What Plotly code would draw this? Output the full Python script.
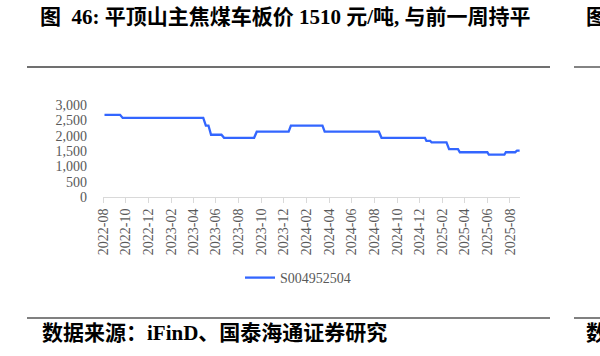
import plotly.graph_objects as go

# ---- data ----
dates = ["2022-08-05", "2022-09-16", "2022-09-23", "2023-04-28", "2023-05-05",
         "2023-05-12", "2023-05-19", "2023-06-16", "2023-06-23", "2023-09-12",
         "2023-09-19", "2023-12-14", "2023-12-20", "2024-03-14", "2024-03-20",
         "2024-08-13", "2024-08-20", "2024-12-15", "2024-12-19", "2024-12-29",
         "2025-01-02", "2025-02-11", "2025-02-18", "2025-03-14", "2025-03-19",
         "2025-06-01", "2025-06-05", "2025-07-17", "2025-07-21", "2025-08-15",
         "2025-08-20", "2025-08-27"]
prices = [2680, 2680, 2580, 2580, 2330, 2330, 2030, 2030, 1930, 1930,
          2130, 2130, 2330, 2330, 2130, 2130, 1930, 1930, 1830, 1830,
          1780, 1780, 1560, 1560, 1460, 1460, 1380, 1380, 1460, 1460,
          1510, 1510]
series_name = "S004952504"
tick_vals = ["2022-08-01", "2022-10-01", "2022-12-01", "2023-02-01", "2023-04-01",
             "2023-06-01", "2023-08-01", "2023-10-01", "2023-12-01", "2024-02-01",
             "2024-04-01", "2024-06-01", "2024-08-01", "2024-10-01", "2024-12-01",
             "2025-02-01", "2025-04-01", "2025-06-01", "2025-08-01"]
tick_text = [v[:7] for v in tick_vals]
title_text = "图  46: 平顶山主焦煤车板价 1510 元/吨, 与前一周持平"
source_text = "数据来源：iFinD、国泰海通证券研究"

# ---- layout geometry (pixels) ----
W, H = 600, 356
L, R, T, B = 103, 520, 105, 197


def px(x):
    return (x - L) / (R - L)


def py(y):
    return (B - y) / (B - T)


serif = "Liberation Serif, Times New Roman, serif"
title_font = "Liberation Serif, Noto Sans CJK SC, serif"

fig = go.Figure()
fig.add_trace(go.Scatter(
    x=dates, y=prices, mode="lines", name=series_name,
    line=dict(color="#3366FF", width=2.3),
))

fig.update_layout(
    width=W, height=H,
    margin=dict(l=L, r=W - R, t=T, b=H - B, pad=0),
    paper_bgcolor="white", plot_bgcolor="white",
    showlegend=True,
    legend=dict(orientation="h", x=px(240), y=py(278), xanchor="left", yanchor="middle",
                font=dict(family=serif, size=14, color="#595959"),
                bgcolor="rgba(0,0,0,0)"),
    xaxis=dict(type="date", range=["2022-08-01", "2025-08-28"],
               tickvals=tick_vals, ticktext=tick_text, tickangle=-90,
               ticks="outside", ticklen=5, tickcolor="#d9d9d9",
               showline=True, linecolor="#d9d9d9", linewidth=1,
               showgrid=False, zeroline=False,
               tickfont=dict(family=serif, size=14, color="#595959")),
    yaxis=dict(range=[0, 3000], dtick=500, tickformat=",",
               showline=False, showgrid=False, zeroline=False,
               ticks="", ticklabelstandoff=15,
               tickfont=dict(family=serif, size=14, color="#595959")),
)

# horizontal rules
for (x0, x1) in [(27, 550), (574, 600)]:
    fig.add_shape(type="line", xref="paper", yref="paper",
                  x0=px(x0), x1=px(x1), y0=py(67), y1=py(67),
                  line=dict(color="#404040", width=1.3))
    fig.add_shape(type="line", xref="paper", yref="paper",
                  x0=px(x0), x1=px(x1), y0=py(318), y1=py(318),
                  line=dict(color="#808080", width=2))

fig.add_annotation(text="<b>" + title_text + "</b>", xref="paper", yref="paper",
                   x=px(38), y=py(17), xanchor="left", yanchor="middle",
                   showarrow=False, font=dict(family=title_font, size=21, color="black"))
fig.add_annotation(text="<b>图</b>", xref="paper", yref="paper",
                   x=px(584), y=py(17), xanchor="left", yanchor="middle",
                   showarrow=False, font=dict(family=title_font, size=21, color="black"))
fig.add_annotation(text="<b>" + source_text + "</b>",
                   xref="paper", yref="paper",
                   x=px(40), y=py(333), xanchor="left", yanchor="middle",
                   showarrow=False, font=dict(family=title_font, size=21, color="black"))
fig.add_annotation(text="<b>数</b>", xref="paper", yref="paper",
                   x=px(584), y=py(333), xanchor="left", yanchor="middle",
                   showarrow=False, font=dict(family=title_font, size=21, color="black"))

fig.write_html("out.html")
